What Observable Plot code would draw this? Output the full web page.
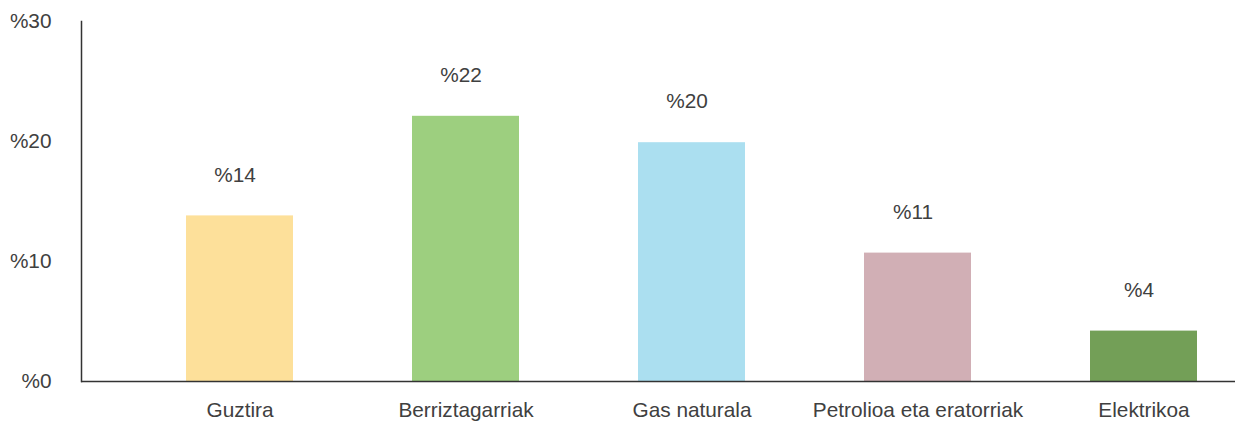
<!DOCTYPE html>
<html>
<head>
<meta charset="utf-8">
<script src="https://cdn.jsdelivr.net/npm/d3@7"></script>
<script src="https://cdn.jsdelivr.net/npm/@observablehq/plot@0.6"></script>
<style>
  html, body { margin: 0; padding: 0; background: #fff; }
  #chart svg { display: block; }
</style>
</head>
<body>
<div id="chart"></div>
<script>
const categories = ["Guztira", "Berriztagarriak", "Gas naturala", "Petrolioa eta eratorriak", "Elektrikoa"];
const values = [13.8, 22.1, 19.9, 10.7, 4.2];
const valueLabels = ["%14", "%22", "%20", "%11", "%4"];
const colors = ["#FDE09A", "#9DCF7F", "#ABDFF0", "#D1AFB5", "#739F57"];
const yTicks = [0, 10, 20, 30];

const data = categories.map((c, i) => ({category: c, value: values[i], label: valueLabels[i], color: colors[i]}));

const chart = Plot.plot({
  width: 1235,
  height: 421,
  marginLeft: 81,
  marginRight: 0,
  marginTop: 21,
  marginBottom: 40,
  style: {fontFamily: "'Liberation Sans', Arial, sans-serif", fontSize: "20.8px", color: "#404040", background: "#fff"},
  x: {domain: categories, range: [126.5, 1256.5], paddingInner: 0.527, paddingOuter: 0.2635, label: null},
  y: {domain: [0, 30], label: null},
  color: {domain: categories, range: colors},
  marks: [
    Plot.barY(data, {x: "category", y: "value", fill: "category"}),
    Plot.text(data, {x: "category", y: "value", text: "label", dy: -41, dx: -5, fontSize: 20.8, fill: "#404040"}),
    Plot.ruleY([0], {stroke: "#333", strokeWidth: 1.5}),
    Plot.frame({anchor: "left", stroke: "#333", strokeWidth: 1.5}),
    Plot.axisY({ticks: yTicks, tickFormat: d => "%" + d, tickSize: 0, tickPadding: 30, fontSize: 20.8, label: null}),
    Plot.axisX({tickSize: 0, tickPadding: 21, fontSize: 20.8, label: null})
  ]
});
document.getElementById("chart").appendChild(chart);
</script>
</body>
</html>
